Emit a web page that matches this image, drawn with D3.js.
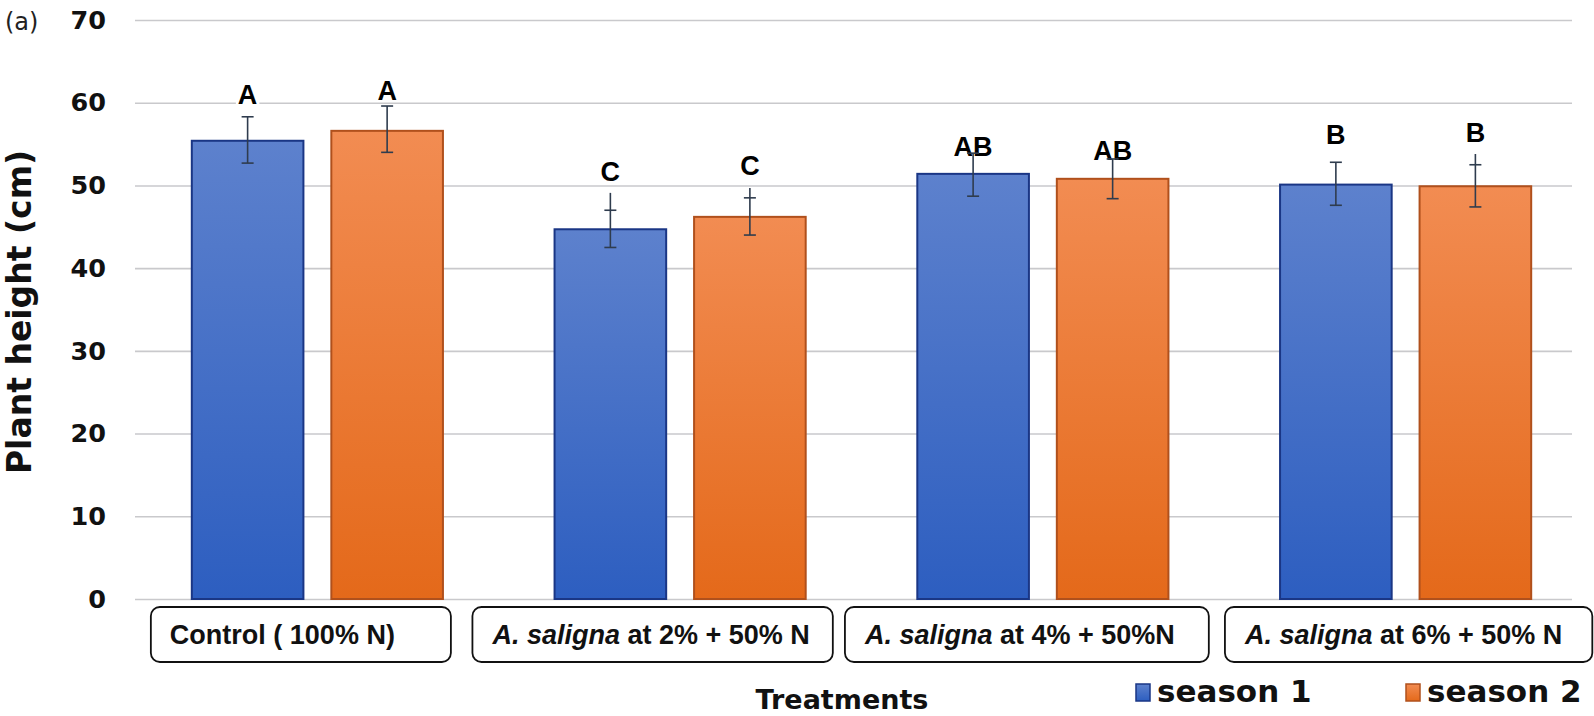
<!DOCTYPE html>
<html><head><meta charset="utf-8">
<script src="https://cdn.jsdelivr.net/npm/d3@7"></script>
<style>body{margin:0;background:#fff} svg{display:block}</style>
</head><body>
<svg id="chart" width="1594" height="716"></svg>
<script>
// ---- data ----
const categories = ["Control ( 100% N)", "A. saligna at 2% + 50% N", "A. saligna at 4% + 50%N", "A. saligna at 6% + 50% N"];
const catItalic = ["", "A. saligna", "A. saligna", "A. saligna"];
const catPlain = ["Control ( 100% N)", " at 2% + 50% N", " at 4% + 50%N", " at 6% + 50% N"];
const seriesNames = ["season 1", "season 2"];
const season1 = [55.4, 44.7, 51.4, 50.1];
const season2 = [56.6, 46.2, 50.8, 49.9];
const season1ErrHigh = [58.3, 47.0, 53.9, 52.8];
const season1ErrLow = [52.7, 42.5, 48.7, 47.6];
const season1Whisker = [null, 49.1, null, null];
const season2ErrHigh = [59.6, 48.5, 53.2, 52.5];
const season2ErrLow = [54.0, 44.0, 48.4, 47.4];
const season2Whisker = [null, 49.7, null, 53.8];
const season1Letters = ["A", "C", "AB", "B"];
const season2Letters = ["A", "C", "AB", "B"];
const yTicks = [0, 10, 20, 30, 40, 50, 60, 70];

// ---- layout (pixels, not data) ----
const letterLift = [[13, 6], [12, 13], [-3, -1], [18, 12]];
const labelNudge = [-35, -29, -23, -2];
const boxRightPad = [56, 23, 34, 30];

const svg = d3.select("#chart");

const x0 = d3.scaleBand().domain(categories).range([136, 1587]);
const x1 = d3.scaleBand().domain(seriesNames).range([0, x0.bandwidth()]).paddingInner(0.2).paddingOuter(0.4);
const y = d3.scaleLinear().domain([0, 70]).range([599, 20]);

// gradients
const defs = svg.append("defs");
const grads = [
  {id: "gBlue", top: "#5d81cd", bot: "#2d5ec0"},
  {id: "gOrange", top: "#f28c52", bot: "#e4691a"}
];
grads.forEach(g => {
  const lg = defs.append("linearGradient").attr("id", g.id).attr("x1", 0).attr("y1", 0).attr("x2", 0).attr("y2", 1);
  lg.append("stop").attr("offset", "0%").attr("stop-color", g.top);
  lg.append("stop").attr("offset", "100%").attr("stop-color", g.bot);
});
const fills = {"season 1": "url(#gBlue)", "season 2": "url(#gOrange)"};
const strokes = {"season 1": "#1a3685", "season 2": "#b0501c"};

// gridlines
const gridX0 = 135, gridX1 = 1572;
svg.append("g").attr("transform", `translate(${gridX0},0)`)
  .call(d3.axisLeft(y).tickValues(yTicks).tickSize(-(gridX1 - gridX0)).tickFormat(""))
  .call(g => g.select(".domain").remove())
  .call(g => g.selectAll("line").attr("stroke", "#c9c9cc").attr("stroke-width", 1.6));

// tick labels
svg.append("g").attr("transform", "translate(106,0)")
  .call(d3.axisLeft(y).tickValues(yTicks).tickSize(0).tickPadding(0))
  .call(g => g.select(".domain").remove())
  .call(g => g.selectAll("text").attr("font-family", "DejaVu Sans").attr("font-weight", "bold")
    .attr("font-size", 25.5).attr("fill", "#111"));

// data rows
const rows = categories.map((c, i) => ({
  cat: c, i,
  bars: [
    {s: "season 1", k: 0, i, v: season1[i], hi: season1ErrHigh[i], lo: season1ErrLow[i], wh: season1Whisker[i], L: season1Letters[i]},
    {s: "season 2", k: 1, i, v: season2[i], hi: season2ErrHigh[i], lo: season2ErrLow[i], wh: season2Whisker[i], L: season2Letters[i]}
  ]
}));
const topOf = d => y(d.wh != null ? Math.max(d.wh, d.hi) : d.hi);

const groups = svg.append("g").selectAll("g").data(rows).join("g")
  .attr("transform", d => `translate(${x0(d.cat)},0)`);

groups.selectAll("rect.bar").data(d => d.bars).join("rect").attr("class", "bar")
  .attr("x", d => x1(d.s)).attr("width", x1.bandwidth())
  .attr("y", d => y(d.v)).attr("height", d => y(0) - y(d.v))
  .attr("fill", d => fills[d.s]).attr("stroke", d => strokes[d.s]).attr("stroke-width", 2);

// significance letters
const lt = groups.selectAll("g.lt").data(d => d.bars).join("g").attr("class", "lt")
  .attr("transform", d => `translate(${x1(d.s) + x1.bandwidth() / 2},${topOf(d) - letterLift[d.i][d.k]})`);
lt.append("text").attr("text-anchor", "middle")
  .attr("font-family", "Liberation Sans, Arial").attr("font-weight", "bold").attr("font-size", 27)
  .attr("fill", "#000").text(d => d.L)
  .each(function () {
    const b = this.getBBox();
    d3.select(this.parentNode).insert("rect", "text")
      .attr("x", b.x - 2).attr("y", -20).attr("width", b.width + 4).attr("height", 21).attr("fill", "#fff");
  });

// error bars
const capW = 12;
const eb = groups.selectAll("g.eb").data(d => d.bars).join("g").attr("class", "eb")
  .attr("transform", d => `translate(${x1(d.s) + x1.bandwidth() / 2},0)`)
  .attr("stroke", "#2f3c4e").attr("stroke-width", 1.6);
eb.append("line").attr("x1", 0).attr("x2", 0).attr("y1", topOf).attr("y2", d => y(d.lo));
eb.append("line").attr("x1", -capW / 2).attr("x2", capW / 2).attr("y1", d => y(d.hi)).attr("y2", d => y(d.hi));
eb.append("line").attr("x1", -capW / 2).attr("x2", capW / 2).attr("y1", d => y(d.lo)).attr("y2", d => y(d.lo));

// category label boxes
const boxY = 607, boxH = 55;
const cl = svg.append("g").selectAll("g").data(categories).join("g");
cl.each(function (c, i) {
  const g = d3.select(this);
  const cx = x0(c) + x0.bandwidth() / 2 + labelNudge[i];
  const t = g.append("text").attr("x", cx).attr("y", boxY + boxH / 2 + 9.5)
    .attr("text-anchor", "middle").attr("font-family", "Liberation Sans, Arial")
    .attr("font-weight", "bold").attr("font-size", 27).attr("fill", "#111");
  if (catItalic[i]) t.append("tspan").attr("font-style", "italic").text(catItalic[i]);
  t.append("tspan").text(catPlain[i]);
  const b = t.node().getBBox();
  g.insert("rect", "text").attr("x", b.x - 19).attr("y", boxY).attr("width", b.width + 19 + boxRightPad[i]).attr("height", boxH)
    .attr("rx", 9).attr("ry", 9).attr("fill", "#fff").attr("stroke", "#111").attr("stroke-width", 1.8);
});

// axis titles
svg.append("text").attr("x", 842).attr("y", 709).attr("text-anchor", "middle")
  .attr("font-family", "DejaVu Sans").attr("font-weight", "bold").attr("font-size", 27).attr("fill", "#111")
  .text("Treatments");
svg.append("text").attr("transform", "translate(31,312) rotate(-90)").attr("text-anchor", "middle")
  .attr("font-family", "DejaVu Sans").attr("font-weight", "bold").attr("font-size", 33).attr("fill", "#111")
  .text("Plant height (cm)");
svg.append("text").attr("x", 5).attr("y", 30)
  .attr("font-family", "DejaVu Sans").attr("font-size", 24).attr("fill", "#222").text("(a)");

// legend
const legX = [1136, 1406];
const leg = svg.append("g").selectAll("g").data(seriesNames).join("g")
  .attr("transform", (d, i) => `translate(${legX[i]},684)`);
leg.append("rect").attr("width", 14).attr("height", 17)
  .attr("fill", d => fills[d]).attr("stroke", d => strokes[d]).attr("stroke-width", 1.5);
leg.append("text").attr("x", 21).attr("y", 18)
  .attr("font-family", "DejaVu Sans").attr("font-weight", "bold").attr("font-size", 31).attr("fill", "#111")
  .text(d => d);
</script>
</body></html>
